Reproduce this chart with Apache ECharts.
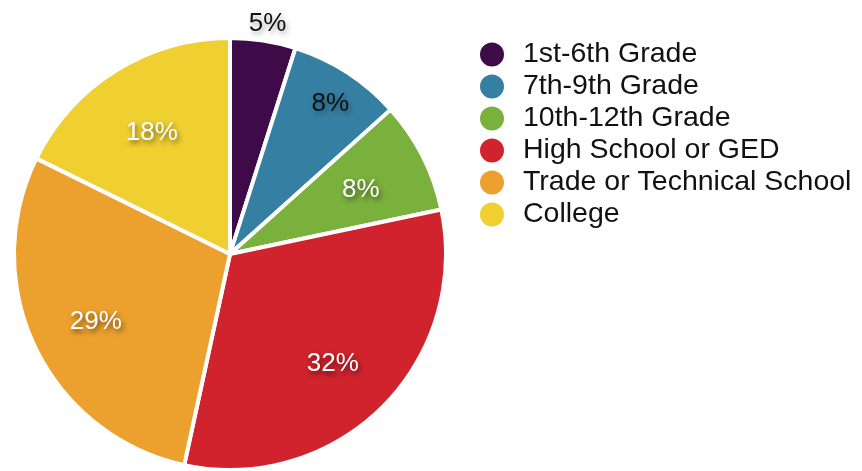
<!DOCTYPE html>
<html>
<head>
<meta charset="utf-8">
<script src="https://cdn.jsdelivr.net/npm/echarts@6/dist/echarts.min.js"></script>
<style>html,body{margin:0;padding:0;background:#fff}#c{width:862px;height:471px}</style>
</head>
<body>
<div id="c"></div>
<script>
const categories = ['1st-6th Grade', '7th-9th Grade', '10th-12th Grade', 'High School or GED', 'Trade or Technical School', 'College'];
const shares = [4.9, 8.45, 8.35, 31.7, 28.9, 17.7];
const colors = ['#3e0b48', '#357fa3', '#7ab03c', '#d0232d', '#eca02e', '#f0cf31'];
const labelText = ['5%', '8%', '8%', '32%', '29%', '18%'];

const FONT = '"Liberation Sans", Helvetica, Arial, sans-serif';
const whiteTxt = { color: '#fff', fontFamily: FONT, fontSize: 26, textShadowColor: 'rgba(0,0,0,0.55)', textShadowBlur: 5, textShadowOffsetX: 2, textShadowOffsetY: 3 };
const darkTxt = { color: '#111', fontFamily: FONT, fontSize: 26, textShadowColor: 'rgba(0,0,0,0.35)', textShadowBlur: 5, textShadowOffsetX: 2, textShadowOffsetY: 3 };
// label nudge from the ring centre line, in px [dx, dy]
const nudge = [[14.5, -81.5], [19, -24.5], [-3, 4], [-3, 3], [1, 3], [1, 6]];

function makeLabel(i) {
  const base = i < 2 ? darkTxt : whiteTxt;
  const dx = nudge[i][0], dy = nudge[i][1];
  const rich = {
    t: base,
    l: { width: Math.max(0, 2 * dx), height: 1, fontSize: 1 },
    r: { width: Math.max(0, -2 * dx), height: 1, fontSize: 1 },
    u: { height: Math.max(1, 2 * dy), fontSize: 1 },
    b: { height: Math.max(1, -2 * dy), fontSize: 1 }
  };
  let fmt = '{l|}{t|' + labelText[i] + '}{r|}';
  if (dy > 0) fmt = '{u| }\n' + fmt;
  if (dy < 0) fmt = fmt + '\n{b| }';
  return { show: true, position: 'inside', formatter: fmt, rich: rich, fontFamily: FONT, fontSize: 26, color: base.color };
}

const chart = echarts.init(document.getElementById('c'), null, { renderer: 'canvas' });
chart.setOption({
  animation: false,
  legend: {
    orient: 'vertical',
    left: 473,
    top: 35,
    icon: 'circle',
    itemWidth: 26,
    itemHeight: 26,
    itemGap: 3,
    textStyle: { fontFamily: FONT, fontSize: 28.5, lineHeight: 28, color: '#111', padding: [0, 0, 0, 13] },
    data: categories
  },
  series: [
    {
      type: 'pie',
      center: [230, 254],
      radius: [0, 216],
      startAngle: 90,
      clockwise: true,
      label: { show: false },
      labelLine: { show: false },
      itemStyle: { borderColor: '#fff', borderWidth: 4 },
      emphasis: { disabled: true },
      data: categories.map((n, i) => ({ name: n, value: shares[i], itemStyle: { color: colors[i] } }))
    },
    {
      type: 'pie',
      center: [230, 254],
      radius: [78, 216],
      startAngle: 90,
      clockwise: true,
      silent: true,
      legendHoverLink: false,
      itemStyle: { color: 'rgba(0,0,0,0)' },
      emphasis: { disabled: true },
      labelLine: { show: false },
      data: categories.map((n, i) => ({ name: n + ' ', value: shares[i], label: makeLabel(i) }))
    }
  ]
});
</script>
</body>
</html>
